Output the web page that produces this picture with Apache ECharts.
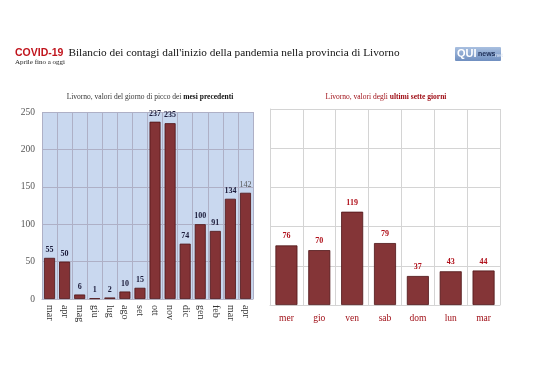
<!DOCTYPE html>
<html><head><meta charset="utf-8">
<script src="https://cdn.jsdelivr.net/npm/echarts@6/dist/echarts.min.js"></script>
<style>html,body{margin:0;padding:0;background:#fff}#c{width:538px;height:380px}</style>
</head><body><div id="c"></div>
<script>
const monthCats = ['mar','apr','mag','giu','lug','ago','set','ott','nov','dic','gen','feb','mar','apr'];
const monthVals = [55,50,6,1,2,10,15,237,235,74,100,91,134,142];
const dayCats = ['mer','gio','ven','sab','dom','lun','mar'];
const dayVals = [76,70,119,79,37,43,44];
const leftTicks = [0,50,100,150,200,250];

const serif = '"Liberation Serif", "DejaVu Serif", serif';
const chart = echarts.init(document.getElementById('c'), null, {renderer:'canvas'});
chart.setOption({
  animation:false,
  backgroundColor:'#fff',
  title:[
    {text:'{r|COVID-19} {b|Bilancio dei contagi dall\'inizio della pandemia nella provincia di Livorno}',
     left:15, top:44, padding:0,
     textStyle:{fontWeight:'normal',rich:{r:{fontFamily:'"Liberation Sans", sans-serif',fontWeight:'bold',fontSize:10.5,color:'#c0141c'},
                      b:{fontFamily:serif,fontWeight:'normal',fontSize:11.3,color:'#111'}}}},
    {text:'Aprile fino a oggi', left:15, top:59, padding:0, textStyle:{fontFamily:serif,fontSize:7,fontWeight:'normal',color:'#222'}},
    {text:'Livorno, valori del giorno di picco dei {b|mesi precedenti}', left:150, top:93, padding:0, textAlign:'center',
     textStyle:{fontFamily:serif,fontSize:7.5,fontWeight:'normal',color:'#333',rich:{b:{fontFamily:serif,fontSize:7.5,fontWeight:'bold',color:'#111'}}}},
    {text:'Livorno, valori degli {b|ultimi sette giorni}', left:386, top:93, padding:0, textAlign:'center',
     textStyle:{fontFamily:serif,fontSize:7.5,fontWeight:'normal',color:'#a01018',rich:{b:{fontFamily:serif,fontSize:7.5,fontWeight:'bold',color:'#a01018'}}}}
  ],
  graphic:[
    {type:'rect', shape:{x:455,y:47,width:46,height:14,r:1}, style:{fill:new echarts.graphic.LinearGradient(0,0,0,1,[{offset:0,color:'#a9c0e0'},{offset:1,color:'#6f8fc0'}])}},
    {type:'text', x:457, y:48, style:{text:'QUI', fontFamily:'"Liberation Sans", sans-serif', fontWeight:'bold', fontSize:11, fill:'#fff'}},
    {type:'text', x:478, y:51, style:{text:'news', fontFamily:'"Liberation Sans", sans-serif', fontWeight:'bold', fontSize:7, fill:'#1c2d55'}},
    {type:'text', x:493, y:52, style:{text:'.net', fontFamily:'"Liberation Sans", sans-serif', fontSize:6, fill:'#d8e2f2'}}
  ],
  grid:[
    {left:42, top:112, width:211, height:187, show:true, backgroundColor:'#c9d8ef', borderWidth:0},
    {left:270, top:109, width:230, height:196, show:false}
  ],
  xAxis:[
    {gridIndex:0, type:'category', data:monthCats, axisTick:{show:false},
     axisLine:{show:true,lineStyle:{color:'#b9b9c9'}},
     axisLabel:{rotate:-90, fontFamily:serif, fontSize:10, color:'#333', margin:6},
     splitLine:{show:true, lineStyle:{color:'#aeb0c6', width:1}}},
    {gridIndex:1, type:'category', data:dayCats, axisTick:{show:false},
     axisLine:{show:true,lineStyle:{color:'#d4d4d4'}},
     axisLabel:{fontFamily:serif, fontSize:9.5, color:'#a01018', margin:8},
     splitLine:{show:true, lineStyle:{color:'#d4d4d4', width:1}}}
  ],
  yAxis:[
    {gridIndex:0, type:'value', min:0, max:250, interval:50,
     axisLine:{show:false}, axisTick:{show:false},
     axisLabel:{fontFamily:serif, fontSize:9.5, color:'#555', margin:7},
     splitLine:{show:true, lineStyle:{color:'#aeb0c6'}}},
    {gridIndex:1, type:'value', min:0, max:250, interval:50,
     axisLine:{show:true,lineStyle:{color:'#d4d4d4'}}, axisTick:{show:false},
     axisLabel:{show:false},
     splitLine:{show:true, lineStyle:{color:'#d4d4d4'}}}
  ],
  series:[
    {type:'bar', xAxisIndex:0, yAxisIndex:0, data:monthVals.map((v,i)=>i===13?{value:v,label:{fontWeight:'normal',color:'#555'}}:v), barCategoryGap:'27%',
     itemStyle:{color:'#833336', borderColor:'#4e1416', borderWidth:0.8},
     label:{show:true, position:'top', distance:4, fontFamily:serif, fontWeight:'bold', fontSize:8, color:'#1b1b3a'}},
    {type:'bar', xAxisIndex:1, yAxisIndex:1, data:dayVals, barCategoryGap:'33%',
     itemStyle:{color:'#843537', borderColor:'#4e1416', borderWidth:0.8},
     label:{show:true, position:'top', distance:5, fontFamily:serif, fontWeight:'bold', fontSize:8, color:'#b0101a'}}
  ]
});
</script></body></html>
